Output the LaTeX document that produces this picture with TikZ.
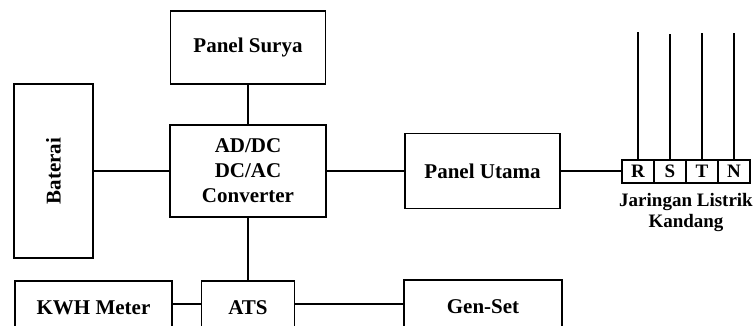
\documentclass[tikz,border=0pt]{standalone}
\usepackage{fontspec}
\setmainfont{Liberation Serif}
\begin{document}
\begin{tikzpicture}[x=1pt,y=-1pt,
  blk/.style={draw,line width=1.5pt,inner sep=0pt,align=center,font=\fontsize{21}{25}\selectfont\bfseries},
  cell/.style={draw,line width=1.5pt,inner sep=0pt,minimum width=32pt,minimum height=23pt,font=\fontsize{19}{20}\selectfont\bfseries},
  wire/.style={line width=1.3pt}]
\useasboundingbox (0,0) rectangle (754,325);
\clip (0,0) rectangle (754,325);
\node[blk,minimum width=155pt,minimum height=73pt] (ps) at (248,47.5) {Panel Surya};
\node[blk,minimum width=156pt,minimum height=92pt] (conv) at (248,171) {AD/DC\\DC/AC\\Converter};
\node[blk,minimum width=79pt,minimum height=174pt] (bat) at (53.5,171) {\rotatebox{90}{Baterai}};
\node[blk,minimum width=155pt,minimum height=75pt] (pu) at (482.5,171) {Panel Utama};
\node[blk,minimum width=157pt,minimum height=54pt] (kwh) at (93.5,308) {KWH Meter};
\node[blk,minimum width=93pt,minimum height=54pt] (ats) at (248,308) {ATS};
\node[blk,minimum width=158pt,minimum height=54pt] (gen) at (483,307) {Gen-Set};
\node[cell] (r) at (638,171.5) {R};
\node[cell] (s) at (670,171.5) {S};
\node[cell] (t) at (702,171.5) {T};
\node[cell] (n) at (734,171.5) {N};
\node[font=\fontsize{19}{21}\selectfont\bfseries,align=center,inner sep=0pt] (lbl) at (686,212) {Jaringan Listrik\\Kandang};
\coordinate (rt) at (638,32);
\coordinate (st) at (670,34);
\coordinate (tt) at (702,33);
\coordinate (nt) at (734,33);
\draw[wire] (ps.south) -- (conv.north);
\draw[wire] (bat.east) -- (bat.east -| conv.west);
\draw[wire] (conv.east) -- (conv.east -| pu.west);
\draw[wire] (pu.east) -- (pu.east -| r.west);
\draw[wire] (conv.south) -- (conv.south |- ats.north);
\draw[wire] ([yshift=4pt]kwh.east) -- ([yshift=4pt]ats.west);
\draw[wire] ([yshift=4pt]ats.east) -- ([yshift=4pt]ats.east -| gen.west);
\draw[wire] (r.north) -- (rt);
\draw[wire] (s.north) -- (st);
\draw[wire] (t.north) -- (tt);
\draw[wire] (n.north) -- (nt);
\end{tikzpicture}
\end{document}
